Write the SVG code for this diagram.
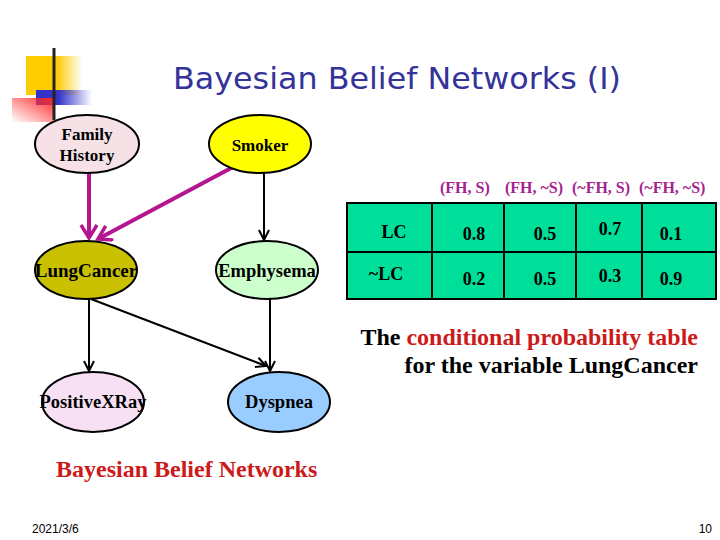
<svg xmlns="http://www.w3.org/2000/svg" width="720" height="540" viewBox="0 0 720 540">
<defs>
<linearGradient id="gY" x1="0" y1="0" x2="1" y2="0"><stop offset="0" stop-color="#ffcc00"/><stop offset="0.55" stop-color="#ffcc00"/><stop offset="1" stop-color="#ffcc00" stop-opacity="0"/></linearGradient>
<linearGradient id="gB" x1="0" y1="0" x2="1" y2="0"><stop offset="0" stop-color="#3333cc"/><stop offset="0.4" stop-color="#3333cc"/><stop offset="1" stop-color="#3333cc" stop-opacity="0"/></linearGradient>
<linearGradient id="gR" x1="1" y1="0" x2="0" y2="1"><stop offset="0" stop-color="#ff2a2a"/><stop offset="1" stop-color="#ff2a2a" stop-opacity="0"/></linearGradient>
<linearGradient id="gL" x1="0" y1="0" x2="1" y2="0"><stop offset="0" stop-color="#222"/><stop offset="1" stop-color="#222" stop-opacity="0.05"/></linearGradient>
<marker id="ab" markerUnits="userSpaceOnUse" markerWidth="14" markerHeight="14" refX="11" refY="6" orient="auto"><path d="M1,1 L11,6 L1,11" fill="none" stroke="#000" stroke-width="2"/></marker>
<marker id="am" markerUnits="userSpaceOnUse" markerWidth="18" markerHeight="20" refX="14" refY="9" orient="auto"><path d="M1,1 L14,9 L1,17" fill="none" stroke="#b4168f" stroke-width="3.5"/></marker>
</defs>
<style>
.node{stroke:#000;stroke-width:2}
.nl{font-family:"Liberation Serif","Times New Roman",serif;font-weight:bold;fill:#000;text-anchor:middle}
.e{fill:none;stroke:#000;stroke-width:2}
.m{fill:none;stroke:#b4168f;stroke-width:4}
.tb{font-family:"Liberation Serif","Times New Roman",serif;font-weight:bold;font-size:18px;fill:#000;text-anchor:middle}
.hd{font-family:"Liberation Serif","Times New Roman",serif;font-weight:bold;font-size:16px;fill:#a3238f}
.cap{font-family:"Liberation Serif","Times New Roman",serif;font-weight:bold;font-size:24px}
.ft{font-family:"Liberation Sans",Arial,sans-serif;font-size:12px;fill:#000}
</style>
<rect width="720" height="540" fill="#fff"/>
<g id="decoration">
<rect x="26" y="56" width="56" height="39" fill="url(#gY)"/>
<rect x="36" y="90" width="56" height="15" fill="url(#gB)"/>
<rect x="12" y="98" width="43" height="24" fill="url(#gR)"/>
<line x1="54" y1="48" x2="54" y2="120" stroke="#222" stroke-width="3"/>
<line x1="28" y1="112" x2="720" y2="112" stroke="url(#gL)" stroke-width="4"/>
</g>
<text x="397" y="89" font-family="DejaVu Sans,Verdana,sans-serif" font-size="31" fill="#333399" text-anchor="middle" textLength="448" lengthAdjust="spacingAndGlyphs">Bayesian Belief Networks (I)</text>
<g id="connectors">
<line class="m" x1="89" y1="173" x2="89" y2="238" marker-end="url(#am)"/>
<line class="m" x1="233" y1="167" x2="98" y2="239" marker-end="url(#am)"/>
<line class="e" x1="264" y1="173" x2="264" y2="240" marker-end="url(#ab)"/>
<line class="e" x1="89" y1="299" x2="89" y2="371" marker-end="url(#ab)"/>
<line class="e" x1="91" y1="299" x2="266" y2="366" marker-end="url(#ab)"/>
<line class="e" x1="270" y1="299" x2="270" y2="371" marker-end="url(#ab)"/>
</g>
<g id="family-history"><ellipse class="node" cx="87" cy="144" rx="52" ry="29" fill="#f5e1e6"/><text class="nl" x="87" y="140" font-size="17">Family</text><text class="nl" x="87" y="161" font-size="17">History</text></g>
<g id="smoker"><ellipse class="node" cx="260" cy="144" rx="51" ry="29" fill="#ffff00"/><text class="nl" x="260" y="151" font-size="17">Smoker</text></g>
<g id="lung-cancer"><ellipse class="node" cx="86" cy="270" rx="51" ry="29" fill="#c8c000"/><text class="nl" x="86" y="277" font-size="19">LungCancer</text></g>
<g id="emphysema"><ellipse class="node" cx="267" cy="270" rx="51" ry="29" fill="#ccffcc"/><text class="nl" x="267" y="277" font-size="18.5">Emphysema</text></g>
<g id="positive-xray"><ellipse class="node" cx="93" cy="402" rx="51" ry="30" fill="#f8e0f4"/><text class="nl" x="93" y="408" font-size="18.5">PositiveXRay</text></g>
<g id="dyspnea"><ellipse class="node" cx="279" cy="402" rx="51" ry="30" fill="#99ccff"/><text class="nl" x="279" y="408" font-size="18.5">Dyspnea</text></g>
<g id="cpt">
<rect x="347" y="203" width="369" height="96" fill="#00df9a" stroke="#000" stroke-width="2"/>
<path d="M347,252 H716 M432,203 V299 M504,203 V299 M576,203 V299 M642,203 V299" stroke="#000" stroke-width="2" fill="none"/>
<text class="hd" y="193"><tspan x="440">(FH, S)</tspan><tspan x="505">(FH, ~S)</tspan><tspan x="572">(~FH, S)</tspan><tspan x="639">(~FH, ~S)</tspan></text>
<text class="tb" x="394" y="238">LC</text>
<text class="tb" x="474" y="240">0.8</text>
<text class="tb" x="545" y="240">0.5</text>
<text class="tb" x="610" y="235">0.7</text>
<text class="tb" x="671" y="240">0.1</text>
<text class="tb" x="386" y="280">~LC</text>
<text class="tb" x="474" y="285">0.2</text>
<text class="tb" x="545" y="285">0.5</text>
<text class="tb" x="610" y="282">0.3</text>
<text class="tb" x="671" y="285">0.9</text>
</g>
<text class="cap" x="698" y="345" text-anchor="end"><tspan fill="#000">The </tspan><tspan fill="#cc1a1a">conditional probability table</tspan></text>
<text class="cap" x="698" y="373" text-anchor="end" fill="#000">for the variable LungCancer</text>
<text class="cap" x="56" y="477" fill="#cc1a1a">Bayesian Belief Networks</text>
<text class="ft" x="32" y="533">2021/3/6</text>
<text class="ft" x="712" y="533" text-anchor="end">10</text>
</svg>
